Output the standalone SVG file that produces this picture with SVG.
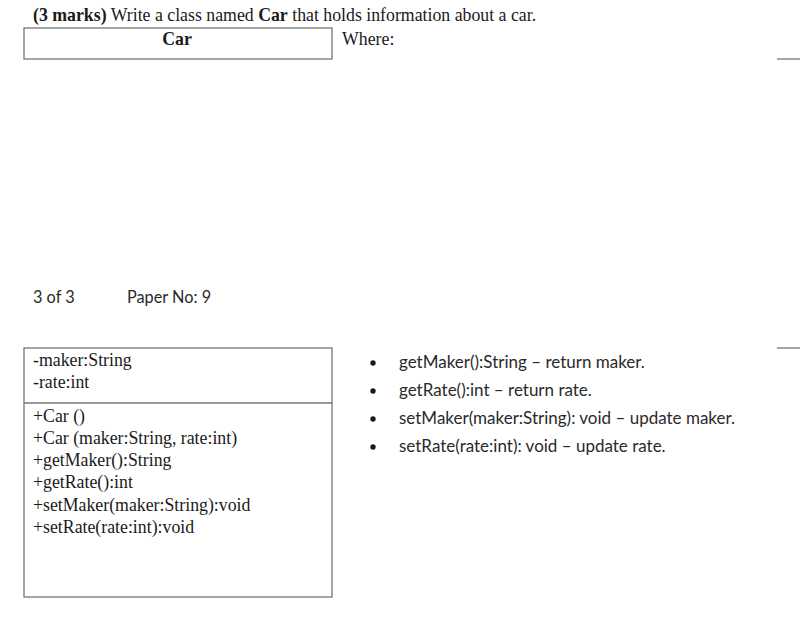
<svg xmlns="http://www.w3.org/2000/svg" width="802" height="632" viewBox="0 0 802 632">
<style>
.tm{font-family:"Liberation Serif","Times New Roman",serif;font-size:17.8px;fill:#1a1a1a}
.b{font-weight:bold}
.cb{font-family:Lato,"Noto Sans",sans-serif;font-size:17px;fill:#2a2a2a}
.pg{font-family:Lato,"Noto Sans",sans-serif;font-size:16.3px;fill:#2a2a2a}
.box{fill:#fff;stroke:#777;stroke-width:1.3}
.rule{stroke:#888;stroke-width:1.5}
</style>
<rect width="802" height="632" fill="#fff"/>
<text class="tm" x="33" y="21"><tspan class="b">(3 marks)</tspan> Write a class named <tspan class="b">Car</tspan> that holds information about a car.</text>
<g id="car-name">
<rect class="box" x="24" y="28" width="308" height="31"/>
<text class="tm b" x="177" y="45" text-anchor="middle">Car</text>
</g>
<text class="tm" x="342" y="45">Where:</text>
<line class="rule" x1="777" y1="59" x2="800" y2="59"/>
<text class="pg" x="33" y="303">3 of 3</text>
<text class="pg" x="127" y="303">Paper No: 9</text>
<line class="rule" x1="777" y1="348" x2="800" y2="348"/>
<g id="car-body">
<rect class="box" x="24" y="348" width="308" height="249"/>
<line class="box" x1="24" y1="403" x2="332" y2="403"/>
<text class="tm" x="33" y="366">-maker:String</text>
<text class="tm" x="33" y="388">-rate:int</text>
<text class="tm" x="33" y="422">+Car ()</text>
<text class="tm" x="33" y="444">+Car (maker:String, rate:int)</text>
<text class="tm" x="33" y="466">+getMaker():String</text>
<text class="tm" x="33" y="488">+getRate():int</text>
<text class="tm" x="33" y="511">+setMaker(maker:String):void</text>
<text class="tm" x="33" y="533">+setRate(rate:int):void</text>
</g>
<g id="bullets">
<circle cx="373" cy="363" r="2.7" fill="#1a1a1a"/>
<text class="cb" x="399" y="368">getMaker():String – return maker.</text>
<circle cx="373" cy="391" r="2.7" fill="#1a1a1a"/>
<text class="cb" x="399" y="396">getRate():int – return rate.</text>
<circle cx="373" cy="419" r="2.7" fill="#1a1a1a"/>
<text class="cb" x="399" y="424">setMaker(maker:String): void – update maker.</text>
<circle cx="373" cy="447" r="2.7" fill="#1a1a1a"/>
<text class="cb" x="399" y="452">setRate(rate:int): void – update rate.</text>
</g>
</svg>
